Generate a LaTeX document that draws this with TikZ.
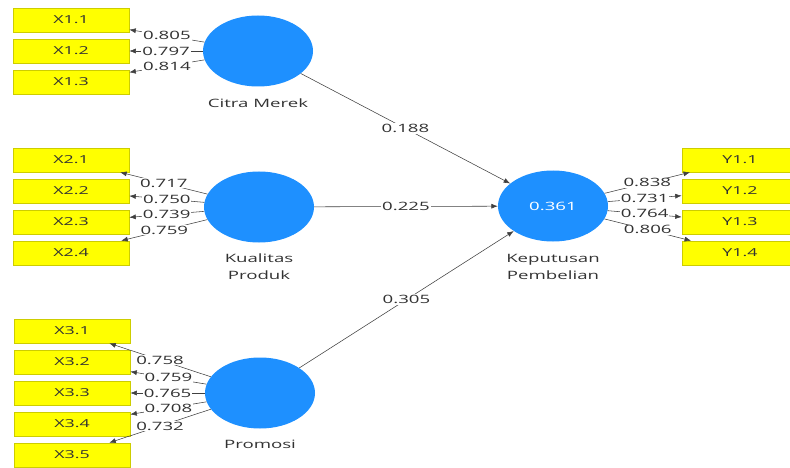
\documentclass[tikz,border=0pt]{standalone}
\usepackage{fontspec}
\setmainfont{Open Sans}[FakeStretch=1.62]
\usetikzlibrary{shapes.geometric,arrows.meta}
\definecolor{lvblue}{RGB}{30,144,255}
\definecolor{mvyellow}{RGB}{255,255,0}
\definecolor{mvedge}{RGB}{205,205,0}
\definecolor{txtgray}{RGB}{50,50,50}
\tikzset{
  mv/.style={rectangle, fill=mvyellow, draw=mvedge, line width=0.6pt, minimum width=116pt, minimum height=24pt, inner sep=0pt, font=\fontsize{11}{12}\selectfont, text=txtgray},
  lv/.style={ellipse, fill=lvblue, draw=none, minimum width=110pt, minimum height=71pt, inner sep=0pt},
  lvname/.style={font=\fontsize{11.5}{17}\selectfont, text=txtgray, align=center},
  path/.style={draw=black!75, line width=0.55pt, -{Latex[length=6.5pt,width=5pt]}},
  coef/.style={midway, fill=white, inner sep=0.8pt, font=\fontsize{11.5}{12}\selectfont, text=txtgray},
}
\begin{document}
\begin{tikzpicture}[x=1pt,y=-1pt]
\useasboundingbox (0,0) rectangle (790,468);
\clip (0,0) rectangle (790,468);
% latent variables
\node[lv] (cm) at (258,51) {};
\node[lv] (kp) at (259,207) {};
\node[lv] (pr) at (260,393) {};
\node[lv] (kb) at (553,206) {\textcolor{white}{\fontsize{11.5}{12}\selectfont 0.361}};
\node[lvname] (cmn) at (258,103) {Citra Merek};
\node[lvname] (kpn) at (259,267) {Kualitas\\Produk};
\node[lvname] (prn) at (260,444) {Promosi};
\node[lvname] (kbn) at (553,267) {Keputusan\\Pembelian};
% indicators
\node[mv] (x11) at (71,20) {X1.1};
\node[mv] (x12) at (71,51) {X1.2};
\node[mv] (x13) at (71,82) {X1.3};
\node[mv] (x21) at (71,160) {X2.1};
\node[mv] (x22) at (71,191) {X2.2};
\node[mv] (x23) at (71,222) {X2.3};
\node[mv] (x24) at (71,253) {X2.4};
\node[mv] (x31) at (72,331) {X3.1};
\node[mv] (x32) at (72,362) {X3.2};
\node[mv] (x33) at (72,393) {X3.3};
\node[mv] (x34) at (72,424) {X3.4};
\node[mv] (x35) at (72,455) {X3.5};
\node[mv] (y11) at (740,160) {Y1.1};
\node[mv] (y12) at (740,191) {Y1.2};
\node[mv] (y13) at (740,222) {Y1.3};
\node[mv] (y14) at (740,253) {Y1.4};
% loadings
\draw[path] (cm) -- node[coef] {0.805} (x11);
\draw[path] (cm) -- node[coef] {0.797} (x12);
\draw[path] (cm) -- node[coef] {0.814} (x13);
\draw[path] (kp) -- node[coef] {0.717} (x21);
\draw[path] (kp) -- node[coef] {0.750} (x22);
\draw[path] (kp) -- node[coef] {0.739} (x23);
\draw[path] (kp) -- node[coef] {0.759} (x24);
\draw[path] (pr) -- node[coef] {0.758} (x31);
\draw[path] (pr) -- node[coef] {0.759} (x32);
\draw[path] (pr) -- node[coef] {0.765} (x33);
\draw[path] (pr) -- node[coef] {0.708} (x34);
\draw[path] (pr) -- node[coef] {0.732} (x35);
\draw[path] (kb) -- node[coef] {0.838} (y11);
\draw[path] (kb) -- node[coef] {0.731} (y12);
\draw[path] (kb) -- node[coef] {0.764} (y13);
\draw[path] (kb) -- node[coef] {0.806} (y14);
% structural paths
\draw[path] (cm) -- node[coef] {0.188} (kb);
\draw[path] (kp) -- node[coef] {0.225} (kb);
\draw[path] (pr) -- node[coef] {0.305} (kb);
\end{tikzpicture}
\end{document}
